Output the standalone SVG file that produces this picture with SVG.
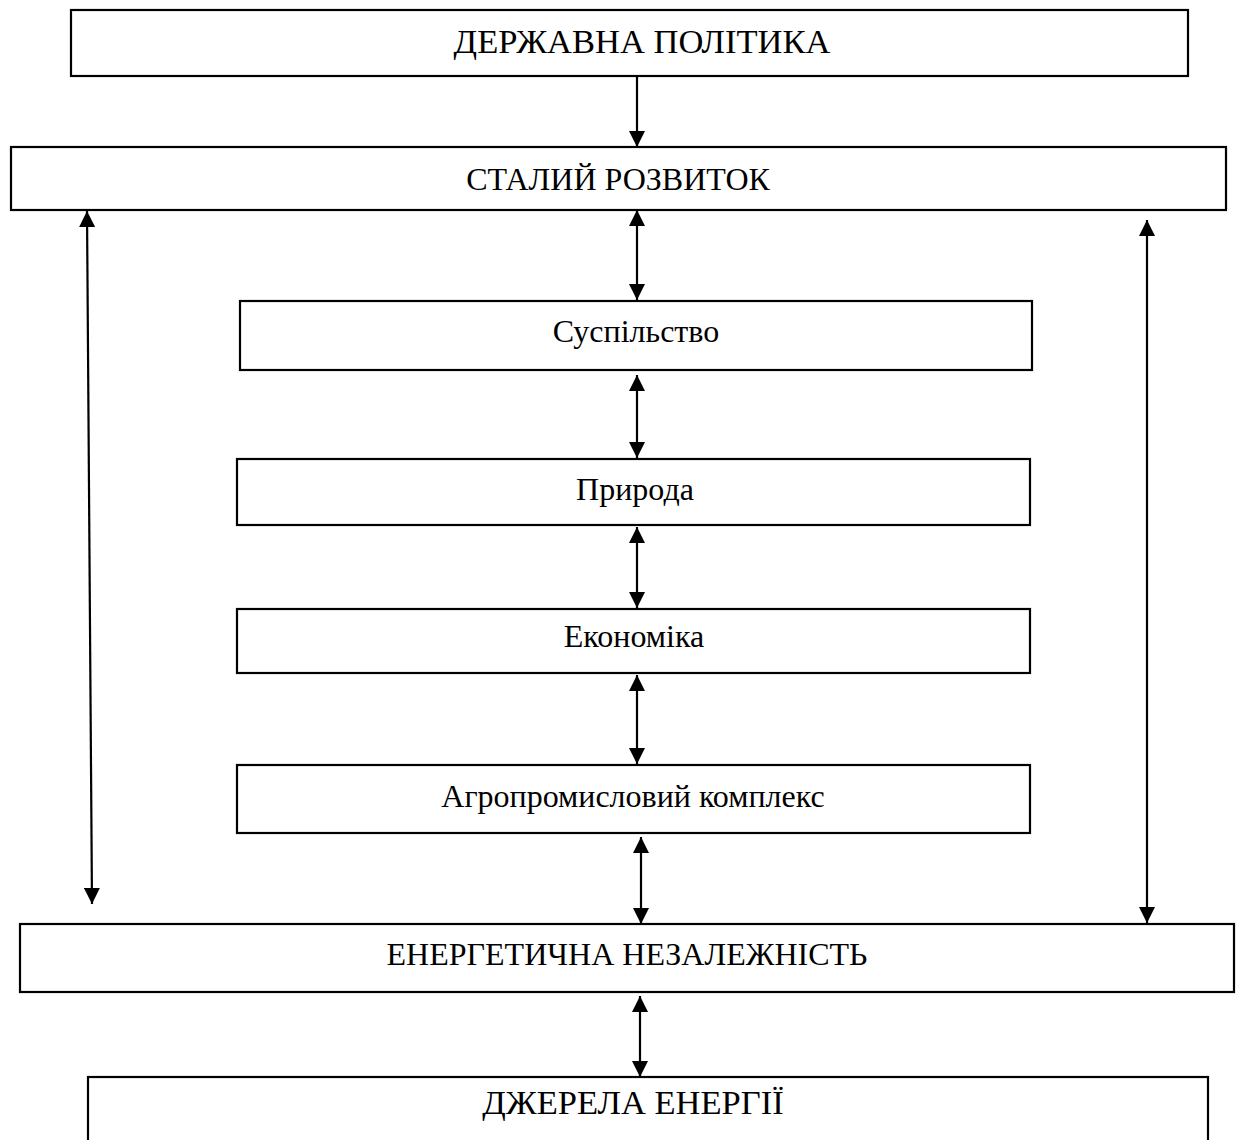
<svg xmlns="http://www.w3.org/2000/svg" width="1238" height="1140" viewBox="0 0 1238 1140">
  <style>
    .box { fill: #ffffff; stroke: #000000; stroke-width: 2.2; }
    .lbl { font-family: "Liberation Serif", "Times New Roman", serif; font-size: 32px; fill: #000000; text-anchor: middle; }
    .big { font-size: 34.5px; }
    .link { stroke: #000000; stroke-width: 2.2; fill: none; }
  </style>
  <defs>
    <marker id="head" viewBox="0 0 16 16" markerWidth="16" markerHeight="16" refX="16" refY="8" orient="auto" markerUnits="userSpaceOnUse">
      <path d="M0,0 L16,8 L0,16 Z" fill="#000000"/>
    </marker>
    <marker id="tail" viewBox="0 0 16 16" markerWidth="16" markerHeight="16" refX="0" refY="8" orient="auto" markerUnits="userSpaceOnUse">
      <path d="M16,0 L0,8 L16,16 Z" fill="#000000"/>
    </marker>
  </defs>

  <g id="state-policy">
    <rect class="box" x="71" y="10" width="1117" height="66"/>
    <text class="lbl big" x="642" y="53">ДЕРЖАВНА ПОЛІТИКА</text>
  </g>
  <g id="sustainable-development">
    <rect class="box" x="11" y="147" width="1215" height="63"/>
    <text class="lbl" x="618" y="190">СТАЛИЙ РОЗВИТОК</text>
  </g>
  <g id="society">
    <rect class="box" x="240" y="301" width="792" height="69"/>
    <text class="lbl" x="636" y="342">Суспільство</text>
  </g>
  <g id="nature">
    <rect class="box" x="237" y="459" width="793" height="66"/>
    <text class="lbl" x="635" y="500">Природа</text>
  </g>
  <g id="economy">
    <rect class="box" x="237" y="609" width="793" height="64"/>
    <text class="lbl" x="634" y="647">Економіка</text>
  </g>
  <g id="agro-complex">
    <rect class="box" x="237" y="765" width="793" height="68"/>
    <text class="lbl" x="633" y="807">Агропромисловий комплекс</text>
  </g>
  <g id="energy-independence">
    <rect class="box" x="20" y="924" width="1214" height="68"/>
    <text class="lbl" x="627" y="965">ЕНЕРГЕТИЧНА НЕЗАЛЕЖНІСТЬ</text>
  </g>
  <g id="energy-sources">
    <rect class="box" x="88" y="1077" width="1120" height="80"/>
    <text class="lbl big" x="633" y="1114">ДЖЕРЕЛА ЕНЕРГІЇ</text>
  </g>

  <g id="connectors">
    <line class="link" x1="637" y1="76" x2="637" y2="147" marker-end="url(#head)"/>
    <line class="link" x1="637" y1="210" x2="637" y2="300" marker-start="url(#tail)" marker-end="url(#head)"/>
    <line class="link" x1="637" y1="375" x2="637" y2="458" marker-start="url(#tail)" marker-end="url(#head)"/>
    <line class="link" x1="637" y1="527" x2="637" y2="608" marker-start="url(#tail)" marker-end="url(#head)"/>
    <line class="link" x1="637" y1="675" x2="637" y2="764" marker-start="url(#tail)" marker-end="url(#head)"/>
    <line class="link" x1="641" y1="837" x2="641" y2="924" marker-start="url(#tail)" marker-end="url(#head)"/>
    <line class="link" x1="640" y1="996" x2="640" y2="1077" marker-start="url(#tail)" marker-end="url(#head)"/>
    <line class="link" x1="87" y1="211" x2="92" y2="904" marker-start="url(#tail)" marker-end="url(#head)"/>
    <line class="link" x1="1147" y1="220" x2="1147" y2="923" marker-start="url(#tail)" marker-end="url(#head)"/>
  </g>
</svg>
